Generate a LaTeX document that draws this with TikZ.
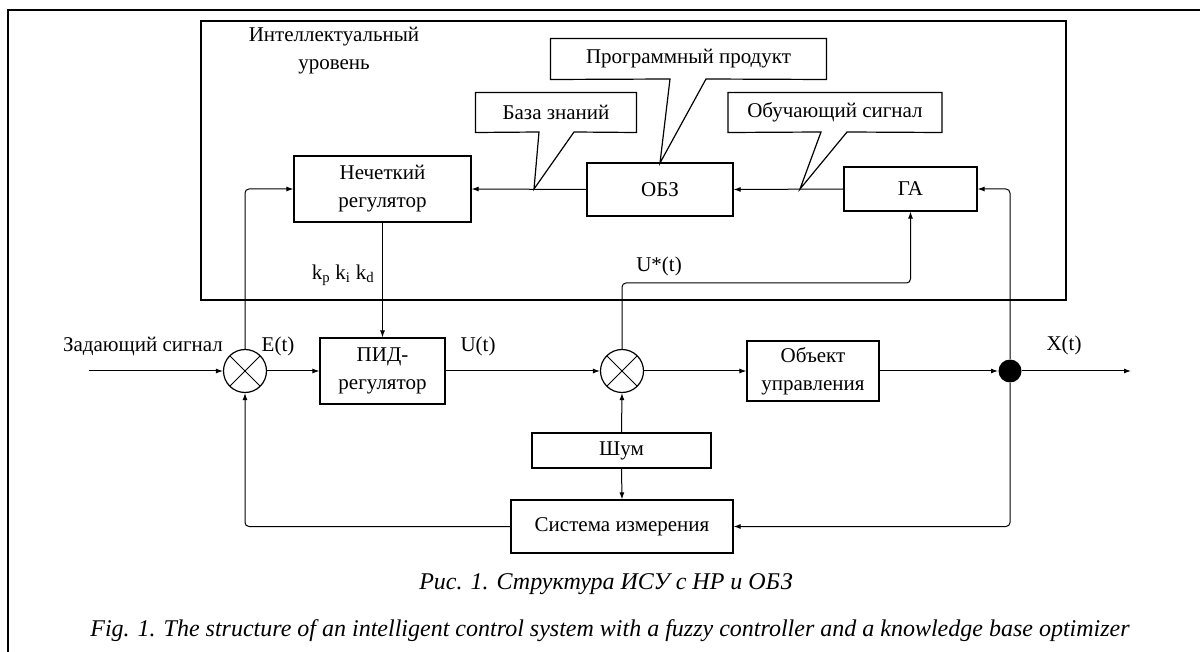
\documentclass[tikz,border=0pt]{standalone}
\usepackage{fontspec}
\setmainfont{Liberation Serif}
\usetikzlibrary{arrows.meta, calc}
\tikzset{
  blocco/.style = {draw, line width=1.2pt, align=center, inner sep=0pt},
  somma/.style = {draw, circle, line width=1.2pt, minimum size=43pt, inner sep=0pt,
    path picture = {
      \draw[line width=1pt] ($(path picture bounding box.center)+(45:22)$) -- ($(path picture bounding box.center)+(225:22)$);
      \draw[line width=1pt] ($(path picture bounding box.center)+(135:22)$) -- ($(path picture bounding box.center)+(315:22)$);
    }},
  nota/.style = {inner sep=0pt},
  didascalia/.style = {inner sep=0pt, font=\fontsize{24}{28}\selectfont\itshape},
}

\begin{document}
\begin{tikzpicture}[x=1pt, y=-1pt, line width=1pt, >={Latex[length=7pt,width=5pt]},
    font=\fontsize{21}{28}\selectfont]
    \useasboundingbox (0,0) rectangle (1200,652);
    % Рамки
    \draw[line width=1.6pt] (8,652) -- (8,10) -- (1200,10);
    \draw[line width=1.2pt] (201,21) rectangle (1066,300);
    \node[align=center] (livello) at (334,51) {Интеллектуальный\\уровень};
    % Блоки
    \node[blocco, minimum width=177pt, minimum height=66pt] (nr) at (382.5,189) {Нечеткий\\регулятор};
    \node[blocco, minimum width=146pt, minimum height=53pt] (obz) at (660,189.5) {ОБЗ};
    \node[blocco, minimum width=133pt, minimum height=44pt] (ga) at (910.5,189) {ГА};
    \node[blocco, minimum width=125pt, minimum height=66pt] (pid) at (382.5,371) {ПИД-\\регулятор};
    \node[blocco, minimum width=132pt, minimum height=60pt] (obj) at (813,371) {Объект\\управления};
    \node[blocco, minimum width=179pt, minimum height=35pt] (shum) at (621.5,450.5) {Шум};
    \node[blocco, minimum width=222pt, minimum height=53pt] (mis) at (622,526.5) {Система измерения};
    \node[somma] (s1) at (245,371) {};
    \node[somma] (s2) at (622,371) {};
    \node[fill, circle, minimum size=23pt, inner sep=0pt] (pt) at (1010,371) {};
    % Выноски
    \node[minimum width=160pt, minimum height=39pt] (kb) at (556,112.5) {База знаний};
    \node[minimum width=275pt, minimum height=40pt] (sw) at (688.5,59) {Программный продукт};
    \node[minimum width=213pt, minimum height=39pt] (ts) at (835,112.5) {Обучающий сигнал};
    \coordinate (kbtip) at (534,189);
    \coordinate (swtip) at (660,163);
    \coordinate (tstip) at (800,189);
    \draw[line width=1.2pt] (kb.south west) -- (kb.north west) -- (kb.north east) -- (kb.south east)
      -- (574,132) -- (kbtip) -- (539,132) -- cycle;
    \draw[line width=1.2pt] (sw.south west) -- (sw.north west) -- (sw.north east) -- (sw.south east)
      -- (706,79) -- (swtip) -- (670,79) -- cycle;
    \draw[line width=1.2pt] (ts.south west) -- (ts.north west) -- (ts.north east) -- (ts.south east)
      -- (847,132) -- (tstip) -- (821,132) -- cycle;
    % Подписи сигналов
    \node[nota] (zs) at (143,346) {Задающий сигнал};
    \node[nota] (et) at (278,346) {E(t)};
    \node[nota] (ut) at (478,346) {U(t)};
    \node[nota] (xt) at (1064,345) {X(t)};
    \node[nota] (us) at (659,266) {U*(t)};
    \node[nota] (kk) at (343,275) {k\textsubscript{p} k\textsubscript{i} k\textsubscript{d}};
    % Связи
    \coordinate (ingresso) at (89,371);
    \coordinate (uscita) at (1131,371);
    \coordinate (ustar) at (760,283);
    \draw[->] (ingresso) -- (s1.west);
    \draw[->] (s1.east) -- (pid.west);
    \draw[->] (pid.east) -- (s2.west);
    \draw[->] (s2.east) -- (obj.west);
    \draw[->] (obj.east) -- (pt.west);
    \draw[->] (pt.east) -- (uscita);
    \draw[->, rounded corners=4pt] (pt.south) |- (mis.east);
    \draw[->, rounded corners=4pt] (mis.west) -| (s1.south);
    \draw[->] (shum.north) -- (s2.south);
    \draw[->] (shum.south) -- (mis.north);
    \draw[->, rounded corners=4pt] (s2.north) |- (ustar) -| (ga.south);
    \draw[->, rounded corners=4pt] (pt.north) |- (ga.east);
    \draw[->, rounded corners=4pt] (s1.north) |- (nr.west);
    \draw[->] (ga.west) -- (obz.east);
    \draw[->] (obz.west) -- (nr.east);
    \draw[->] (nr.south) -- (pid.north);
    % Подрисуночные надписи
    \node[didascalia] (rus) at (606,584) {Рис. 1. Структура ИСУ с НР и ОБЗ};
    \node[didascalia] (eng) at (610,631) {Fig. 1. The structure of an intelligent control system with a fuzzy controller and a knowledge base optimizer};
\end{tikzpicture}
\end{document}
